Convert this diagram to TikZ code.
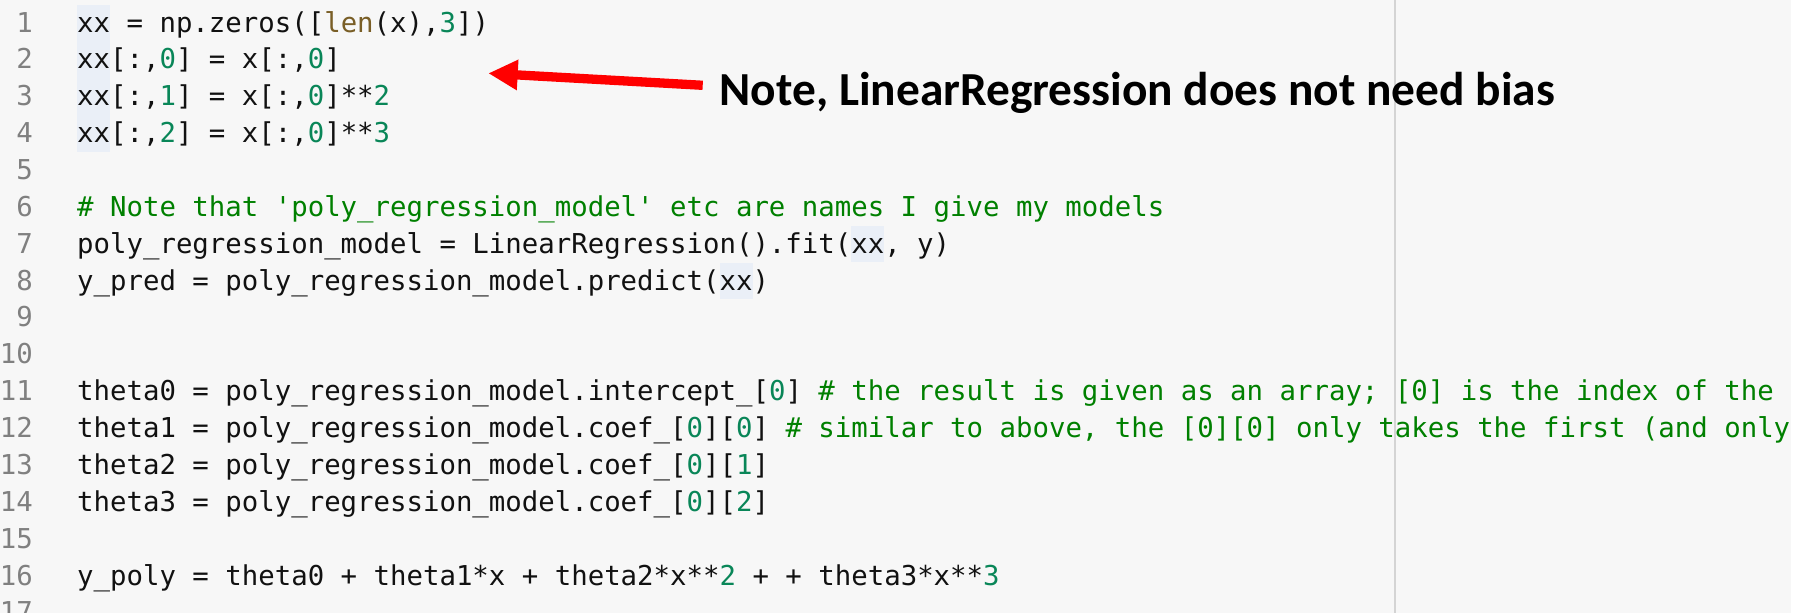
\documentclass[tikz,border=0pt]{standalone}
\usepackage{fontspec}
\usetikzlibrary{arrows.meta}
\newfontfamily\codefont{DejaVu Sans Mono}
\newfontfamily\notefont{Carlito}

\definecolor{editorbg}{HTML}{F7F7F7}
\definecolor{codeink}{HTML}{111111}
\definecolor{numink}{HTML}{098658}
\definecolor{cmtink}{HTML}{008000}
\definecolor{fnink}{HTML}{795E26}
\definecolor{gutterink}{HTML}{808080}
\definecolor{rulerink}{HTML}{D4D4D4}
\definecolor{wordhl}{HTML}{EAEFF7}
\definecolor{notered}{HTML}{FF0000}

% syntax colouring helpers
\newcommand\numlit[1]{\textcolor{numink}{#1}}
\newcommand\cmt[1]{\textcolor{cmtink}{#1}}
\newcommand\fnname[1]{\textcolor{fnink}{#1}}

\tikzset{
  codeline/.style={font={\codefont\fontsize{27.36}{36}\selectfont\frenchspacing},
    text=codeink, inner sep=0pt, anchor=base west},
  gutter/.style={font={\codefont\fontsize{27.36}{36}\selectfont},
    text=gutterink, inner sep=0pt, anchor=base east},
  notetext/.style={font={\notefont\bfseries\fontsize{47.4}{50}\selectfont},
    text=black, inner sep=0pt, anchor=base west},
  notearrow/.style={draw=notered, line width=9.3pt,
    -{Triangle[length=29.4pt,width=28.6pt]}},
  ruler/.style={draw=rulerink, line width=1.5pt},
}

\begin{document}
\begin{tikzpicture}[x=1pt,y=-1pt]
\useasboundingbox (0,0) rectangle (1810,613);
\begin{scope}
\clip (0,0) rectangle (1810,613);
% editor background and 80-column ruler
\fill[white] (0,0) rectangle (1810,613);
\fill[editorbg] (0,0) rectangle (1791,613);
\draw[ruler] (1395,0) -- (1395,613);

% occurrence highlights of xx
\fill[wordhl] (77,5) rectangle (110,152);
\fill[wordhl] (851,226) rectangle (884,262);
\fill[wordhl] (719.5,263) rectangle (752.5,299);

% line numbers
\foreach \n in {1,...,17}
  \node[gutter] (ln\n) at (33,{32+(\n-1)*36.87}) {\n};

% source lines
\node[codeline] (c1)  at (77,32)     {xx = np.zeros([\fnname{len}(x),\numlit{3}])};
\node[codeline] (c2)  at (77,68.87)  {xx[:,\numlit{0}] = x[:,\numlit{0}]};
\node[codeline] (c3)  at (77,105.74) {xx[:,\numlit{1}] = x[:,\numlit{0}]**\numlit{2}};
\node[codeline] (c4)  at (77,142.61) {xx[:,\numlit{2}] = x[:,\numlit{0}]**\numlit{3}};
\node[codeline] (c6)  at (77,216.35) {\cmt{\# Note that 'poly\_regression\_model' etc are names I give my models}};
\node[codeline] (c7)  at (77,253.22) {poly\_regression\_model = LinearRegression().fit(xx, y)};
\node[codeline] (c8)  at (77,290.09) {y\_pred = poly\_regression\_model.predict(xx)};
\node[codeline] (c11) at (77,400.70) {theta0 = poly\_regression\_model.intercept\_[\numlit{0}] \cmt{\# the result is given as an array; [0] is the index of the}};
\node[codeline] (c12) at (77,437.57) {theta1 = poly\_regression\_model.coef\_[\numlit{0}][\numlit{0}] \cmt{\# similar to above, the [0][0] only takes the first (and only}};
\node[codeline] (c13) at (77,474.44) {theta2 = poly\_regression\_model.coef\_[\numlit{0}][\numlit{1}]};
\node[codeline] (c14) at (77,511.31) {theta3 = poly\_regression\_model.coef\_[\numlit{0}][\numlit{2}]};
\node[codeline] (c16) at (77,585.05) {y\_poly = theta0 + theta1*x + theta2*x**\numlit{2} + + theta3*x**\numlit{3}};

% annotation with its arrow
\node[notetext] (note) at (719.5,105) {Note, LinearRegression does not need bias};
\coordinate (tip) at (488.3,73.3);
\draw[notearrow] ([xshift=-16.8pt,yshift=19.7pt]note.base west) -- (tip);
\end{scope}
\end{tikzpicture}
\end{document}
